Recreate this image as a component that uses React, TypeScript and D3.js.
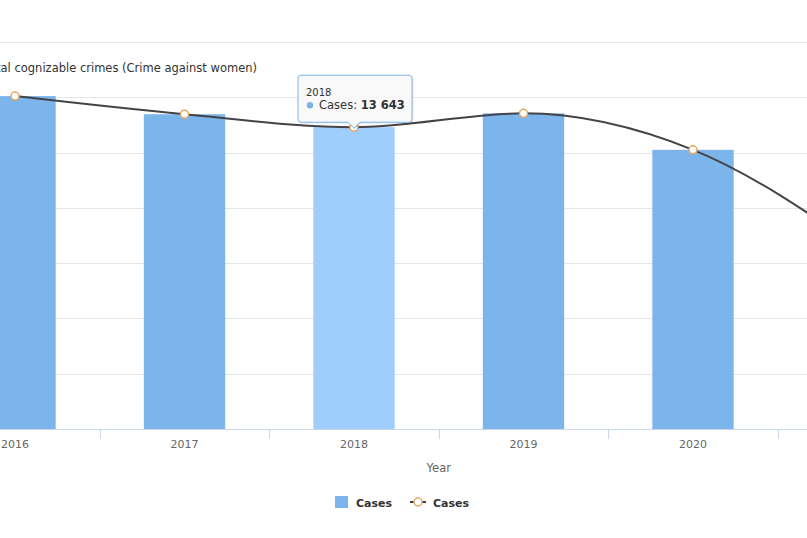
import React from 'react';
import * as d3 from 'd3';

// Yearly cases of cognizable crimes against women
const years = ['2016', '2017', '2018', '2019', '2020', '2021'];
const cases = [15050, 14230, 13643, 14270, 12620, 8100];
const yTicks = [0, 2500, 5000, 7500, 10000, 12500, 15000, 17500];
const hoveredYear = '2018';

const W = 807;
const H = 538;
const FONT = '"DejaVu Sans", Verdana, sans-serif';

const BAR = '#7cb5ec';
const BAR_HOVER = '#9fcdfc';
const LINE = '#434348';
const MARKER = '#e6a764';

const fmt = d3.formatLocale({ decimal: '.', thousands: ' ', grouping: [3], currency: ['', ''] }).format(',');

export default function App() {
  const x = d3.scaleBand<string>().domain(years).range([-69.75, 947.25]).paddingInner(0).paddingOuter(0);
  const y = d3.scaleLinear().domain([0, 17500]).range([429, 41.9]);
  const cx = (yr: string) => (x(yr) as number) + x.bandwidth() / 2;
  const barW = x.step() * 0.48;
  const base = y(0);

  const data = years.map((yr, i) => ({ yr, v: cases[i] }));
  const linePath = d3
    .line<{ yr: string; v: number }>()
    .x((d) => cx(d.yr))
    .y((d) => y(d.v))
    .curve(d3.curveMonotoneX)(data) as string;

  const boundaries = [x.range()[0], ...years.slice(1).map((yr) => x(yr) as number), x.range()[1]];
  // only labels whose category centre lies inside the viewport
  const visibleYears = years.filter((yr) => cx(yr) < W);

  // tooltip anchored above the hovered point
  const hi = years.indexOf(hoveredYear);
  const px = cx(hoveredYear);
  const py = y(cases[hi]);
  const tw = 114;
  const th = 47;
  const tl = px - 56;
  const tt = py - 52;
  const tb = tt + th;
  const r = 3;
  const tipPath = [
    `M${tl + r},${tt}`,
    `H${tl + tw - r}`,
    `Q${tl + tw},${tt} ${tl + tw},${tt + r}`,
    `V${tb - r}`,
    `Q${tl + tw},${tb} ${tl + tw - r},${tb}`,
    `H${px + 6}`,
    `L${px},${py + 1}`,
    `L${px - 6},${tb}`,
    `H${tl + r}`,
    `Q${tl},${tb} ${tl},${tb - r}`,
    `V${tt + r}`,
    `Q${tl},${tt} ${tl + r},${tt}`,
    'Z',
  ].join(' ');

  return (
    <svg
      width={W}
      height={H}
      style={{ position: 'absolute', left: 0, top: 0, background: '#fff', fontFamily: FONT }}
    >
      <rect x={0} y={0} width={W} height={H} fill="#fff" />

      {/* horizontal grid */}
      {yTicks.slice(1).map((t) => (
        <line key={t} x1={0} x2={W} y1={Math.round(y(t)) + 0.5} y2={Math.round(y(t)) + 0.5} stroke="#e6e6e6" strokeWidth={1} />
      ))}

      {/* y axis title */}
      <text x={257} y={71.5} textAnchor="end" fontSize={11.5} fill="#333">
        Total cognizable crimes (Crime against women)
      </text>

      {/* columns */}
      {data.map((d) => (
        <rect
          key={d.yr}
          x={cx(d.yr) - barW / 2}
          y={y(d.v)}
          width={barW}
          height={base - y(d.v)}
          fill={d.yr === hoveredYear ? BAR_HOVER : BAR}
        />
      ))}

      {/* x axis */}
      <line x1={x.range()[0]} x2={x.range()[1]} y1={429.5} y2={429.5} stroke="#ccd6eb" strokeWidth={1} />
      {boundaries.map((b, i) => (
        <line key={i} x1={Math.round(b) + 0.5} x2={Math.round(b) + 0.5} y1={429} y2={439} stroke="#ccd6eb" strokeWidth={1} />
      ))}
      {visibleYears.map((yr) => (
        <text key={yr} x={cx(yr)} y={447.5} textAnchor="middle" fontSize={11} fill="#666">
          {yr}
        </text>
      ))}
      <text x={(x.range()[0] + x.range()[1]) / 2} y={471.5} textAnchor="middle" fontSize={11.5} fill="#666">
        Year
      </text>

      {/* spline */}
      <path d={linePath} fill="none" stroke={LINE} strokeWidth={2} strokeLinejoin="round" />
      {data.map((d) => (
        <circle key={d.yr} cx={cx(d.yr)} cy={y(d.v)} r={4} fill="#fff" stroke={MARKER} strokeWidth={1.5} />
      ))}

      {/* tooltip */}
      <path d={tipPath} fill="#000" opacity={0.06} transform="translate(1,1)" />
      <path d={tipPath} fill="#000" opacity={0.04} transform="translate(2,2)" />
      <path d={tipPath} fill="rgba(250,250,250,0.95)" stroke={BAR} strokeWidth={1} />
      <text x={tl + 8} y={tt + 21} fontSize={10} fill="#333">
        {hoveredYear}
      </text>
      <circle cx={tl + 12} cy={tt + 30} r={3.2} fill={BAR} />
      <text x={tl + 21} y={tt + 34} fontSize={11.5} fill="#333">
        Cases: <tspan fontWeight="bold">{fmt(cases[hi])}</tspan>
      </text>

      {/* legend */}
      <rect x={335} y={496} width={13} height={12} fill={BAR} />
      <text x={356} y={507} fontSize={11} fontWeight="bold" fill="#333">
        Cases
      </text>
      <line x1={410} x2={426} y1={502} y2={502} stroke={LINE} strokeWidth={2} />
      <circle cx={418} cy={502} r={4} fill="#fff" stroke={MARKER} strokeWidth={1.5} />
      <text x={433} y={507} fontSize={11} fontWeight="bold" fill="#333">
        Cases
      </text>
    </svg>
  );
}
